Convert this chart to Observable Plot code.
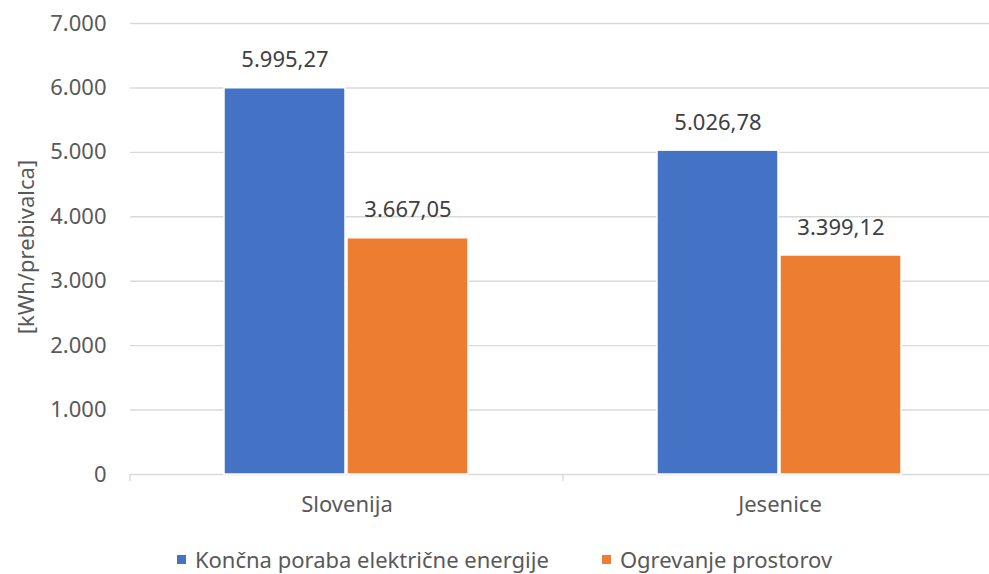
<!DOCTYPE html>
<html><head><meta charset="utf-8">
<script src="https://cdn.jsdelivr.net/npm/d3@7"></script>
<script src="https://cdn.jsdelivr.net/npm/@observablehq/plot@0.6"></script>
<style>
body{margin:0;background:#fff;font-family:"Noto Sans",sans-serif;}
#wrap{position:relative;width:989px;height:574px;overflow:hidden;}
#chart{width:989px;overflow:hidden;}
#ytitle{position:absolute;left:25px;top:247px;transform:translate(-50%,-50%) rotate(-90deg);font-size:22px;color:#595959;white-space:nowrap;}
#legend{display:flex;justify-content:center;align-items:center;gap:53px;padding-left:20px;margin-top:5px;font-size:22px;color:#595959;line-height:28px;white-space:nowrap;}
.item{display:flex;align-items:center;}
.sw{width:9px;height:9px;margin-right:9px;display:inline-block;}
</style></head>
<body>
<div id="wrap">
<div id="chart"></div>
<div id="ytitle">[kWh/prebivalca]</div>
<div id="legend"></div>
</div>
<script>
const categories = ["Slovenija", "Jesenice"];
const seriesNames = ["Končna poraba električne energije", "Ogrevanje prostorov"];
const electricity = [5995.27, 5026.78];
const heating = [3667.05, 3399.12];
const yTicks = [0, 1000, 2000, 3000, 4000, 5000, 6000, 7000];
const seriesColors = ["#4472C4", "#ED7D31"];

const loc = d3.formatLocale({decimal: ",", thousands: ".", grouping: [3], currency: ["", ""]});
const fmtInt = loc.format(",.0f");
const fmtVal = loc.format(",.2f");

const rows = [];
categories.forEach((c, i) => {
  rows.push({category: c, series: seriesNames[0], value: electricity[i]});
  rows.push({category: c, series: seriesNames[1], value: heating[i]});
});

const chart = Plot.plot({
  width: 996, height: 540,
  marginTop: 23, marginBottom: 66, marginLeft: 130, marginRight: 0,
  style: {fontFamily: "Noto Sans", fontSize: "22px", color: "#595959", background: "#fff", maxWidth: "none"},
  fx: {domain: categories, padding: 0, label: null},
  x: {domain: seriesNames, paddingInner: 0.016, paddingOuter: 0.754, axis: null},
  y: {domain: [0, 7000]},
  color: {domain: seriesNames, range: seriesColors},
  marks: [
    Plot.gridY(yTicks, {stroke: "#d9d9d9", strokeOpacity: 1, strokeWidth: 1.4}),
    Plot.axisY(yTicks, {tickSize: 0, tickPadding: 24, tickFormat: fmtInt, label: null, fill: "#595959"}),
    Plot.axisFx({anchor: "bottom", tickSize: 0, tickPadding: 22, label: null, fill: "#595959"}),
    Plot.barY(rows, {fx: "category", x: "series", y: "value", fill: "series", stroke: "white", strokeWidth: 1.5}),
    Plot.text(rows, {fx: "category", x: "series", y: "value", text: d => fmtVal(d.value), dy: -28, fill: "#404040"})
  ]
});
document.getElementById("chart").appendChild(chart);

// category separator ticks below the baseline, from the library's scales
const fxS = chart.scale("fx"), yS = chart.scale("y");
const bounds = categories.map(c => fxS.apply(c));
bounds.push(fxS.apply(categories[categories.length - 1]) + fxS.bandwidth);
const y0 = yS.apply(0);
const svg = d3.select(chart.tagName.toLowerCase() === "svg" ? chart : chart.querySelector("svg"));
svg.append("g").selectAll("line").data(bounds).join("line")
  .attr("x1", d => d).attr("x2", d => d)
  .attr("y1", y0).attr("y2", y0 + 7)
  .attr("stroke", "#d9d9d9").attr("stroke-width", 1.4);

const legend = document.getElementById("legend");
seriesNames.forEach((s, i) => {
  const it = document.createElement("div"); it.className = "item";
  const sw = document.createElement("span"); sw.className = "sw"; sw.style.background = seriesColors[i];
  const t = document.createElement("span"); t.textContent = s;
  it.appendChild(sw); it.appendChild(t); legend.appendChild(it);
});
</script>
</body></html>
